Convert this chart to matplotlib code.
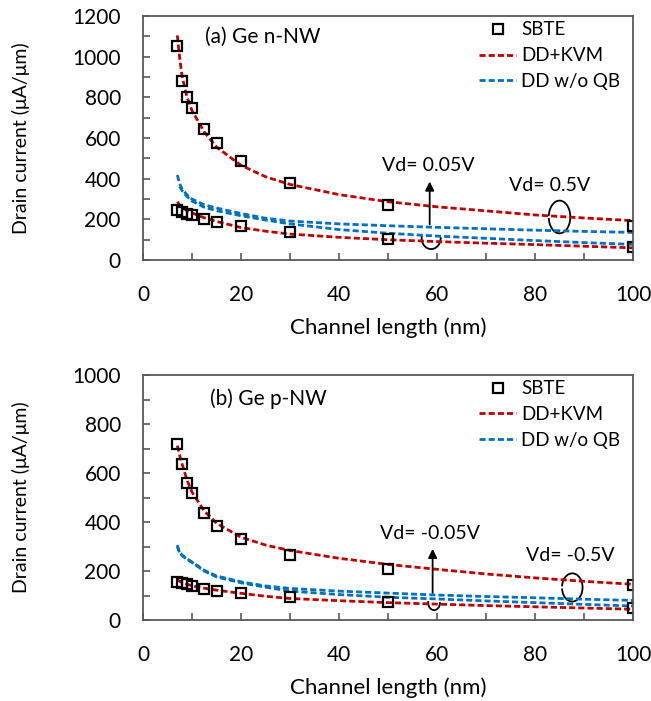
import matplotlib
matplotlib.use('Agg')
import matplotlib.pyplot as plt
from matplotlib.patches import Arc

plt.rcParams['font.family'] = ['Lato', 'DejaVu Sans']

# SBTE points (same channel lengths in both panels)
L_sbte = [7, 8, 9, 10, 12.5, 15, 20, 30, 50, 100]
n_sbte_hi = [1053, 879, 802, 750, 647, 576, 488, 378, 272, 167]
n_sbte_lo = [246, 237, 229, 221, 201, 185, 167, 139, 102, 62]
p_sbte_hi = [718, 635, 560, 520, 435, 384, 331, 265, 207, 141]
p_sbte_lo = [156, 151, 146, 140, 128, 120, 112, 95, 75, 48]

# model curves
L_c = [7, 7.5, 8, 9, 10, 12.5, 15, 20, 25, 30, 40, 50, 60, 70, 80, 90, 100]
L_c2 = [7.5, 8, 9, 10, 12.5, 15, 20, 25, 30, 40, 50, 60, 70, 80, 90, 100]
n_kvm_hi = [1105, 990, 900, 800, 735, 630, 556, 466, 410, 372, 322, 287, 262, 242, 222, 207, 194]
n_kvm_lo = [287, 270, 258, 243, 232, 208, 190, 160, 142, 128, 112, 100, 91, 83, 76, 68, 60]
n_dd_hi = [418, 375, 348, 320, 300, 272, 256, 229, 206, 192, 178, 169, 161, 154, 147, 141, 136]
n_dd_lo = [362, 340, 312, 290, 260, 243, 218, 197, 178, 150, 132, 118, 107, 96, 86, 77]

p_kvm_hi = [712, 670, 635, 570, 522, 445, 395, 338, 306, 284, 252, 227, 207, 188, 172, 158, 146]
p_kvm_lo = [165, 158, 153, 146, 140, 130, 122, 109, 97, 88, 79, 71, 65, 59, 54, 49, 44]
p_dd_hi = [306, 274, 265, 250, 237, 203, 180, 156, 139, 129, 118, 110, 102, 96, 91, 85, 80]
p_dd_lo = [300, 271, 262, 247, 235, 200, 176, 152, 134, 118, 104, 93, 86, 78, 71, 64, 57]

red = '#C00000'
blue = '#0070C0'
dash = (2.2, 1.1)

fig = plt.figure(figsize=(6.51, 7.01), dpi=100)
ax1 = fig.add_axes([0.2197, 0.629, 0.7527, 0.348])
ax2 = fig.add_axes([0.2197, 0.1155, 0.7527, 0.3495])


def draw_panel(ax, sb_hi, sb_lo, kvm_hi, kvm_lo, L_dd_hi, dd_hi, L_dd_lo, dd_lo, ymax):
    ax.plot(L_c, kvm_hi, color=red, lw=2.0, dashes=dash, label='DD+KVM')
    ax.plot(L_c, kvm_lo, color=red, lw=2.0, dashes=dash)
    ax.plot(L_dd_hi, dd_hi, color=blue, lw=2.0, dashes=dash, label='DD w/o QB')
    ax.plot(L_dd_lo, dd_lo, color=blue, lw=2.0, dashes=dash)
    ax.plot(L_sbte, sb_hi, 's', ms=6.5, mfc='none', mec='black', mew=1.6, label='SBTE')
    ax.plot(L_sbte, sb_lo, 's', ms=6.5, mfc='none', mec='black', mew=1.6)
    ax.set_xlim(0, 100)
    ax.set_ylim(0, ymax)
    ax.set_xticks(range(0, 101, 20))
    ax.set_xticks(range(0, 101, 10), minor=True)
    ax.set_yticks(range(0, ymax + 1, 200))
    ax.set_yticks(range(0, ymax + 1, 100), minor=True)
    ax.tick_params(which='both', direction='in', length=5, width=1.2, color='#595959',
                   labelsize=15, colors='#595959', labelcolor='black')
    ax.tick_params(axis='x', pad=18)
    ax.tick_params(axis='y', pad=16)
    for s in ax.spines.values():
        s.set_color('#595959')
        s.set_linewidth(1.3)
    ax.set_xlabel('Channel length (nm)', fontsize=16, labelpad=9)
    ax.set_ylabel('Drain current (μA/μm)', fontsize=14)
    ax.yaxis.set_label_coords(-0.23, 0.5)
    h, l = ax.get_legend_handles_labels()
    order = [2, 0, 1]
    ax.legend([h[i] for i in order], [l[i] for i in order], loc='upper left',
              bbox_to_anchor=(0.655, 1.04), frameon=False, fontsize=13.5,
              handlelength=2.0, handletextpad=0.25, labelspacing=0.47, borderpad=0.3)


draw_panel(ax1, n_sbte_hi, n_sbte_lo, n_kvm_hi, n_kvm_lo, L_c, n_dd_hi, L_c2, n_dd_lo, 1200)
draw_panel(ax2, p_sbte_hi, p_sbte_lo, p_kvm_hi, p_kvm_lo, L_c, p_dd_hi, L_c, p_dd_lo, 1000)

# panel (a) annotations
ax1.text(12.7, 1097, '(a) Ge n-NW', fontsize=15, va='center', ha='left')
ax1.text(58.3, 467, 'Vd= 0.05V', fontsize=14, va='center', ha='center')
ax1.text(82.9, 368, 'Vd= 0.5V', fontsize=14, va='center', ha='center')
ax1.annotate('', xy=(58.5, 400), xytext=(58.5, 162),
             arrowprops=dict(arrowstyle='-|>', color='black', lw=1.3, mutation_scale=13))
ax1.add_patch(Arc((58.8, 109), 3.9, 110, theta1=100, theta2=420, color='black', lw=1.3))
ax1.add_patch(Arc((85.0, 212), 4.4, 161, theta1=-115, theta2=115, color='black', lw=1.3))

# panel (b) annotations
ax2.text(13.6, 905, '(b) Ge p-NW', fontsize=15, va='center', ha='left')
ax2.text(58.6, 354, 'Vd= -0.05V', fontsize=14, va='center', ha='center')
ax2.text(87.1, 265, 'Vd= -0.5V', fontsize=14, va='center', ha='center')
ax2.annotate('', xy=(59.1, 302), xytext=(59.1, 100),
             arrowprops=dict(arrowstyle='-|>', color='black', lw=1.3, mutation_scale=13))
ax2.add_patch(Arc((59.4, 71), 2.4, 61, theta1=100, theta2=420, color='black', lw=1.3))
ax2.add_patch(Arc((87.6, 133), 4.2, 115, theta1=-115, theta2=115, color='black', lw=1.3))

fig.savefig('out.png', dpi=100)
